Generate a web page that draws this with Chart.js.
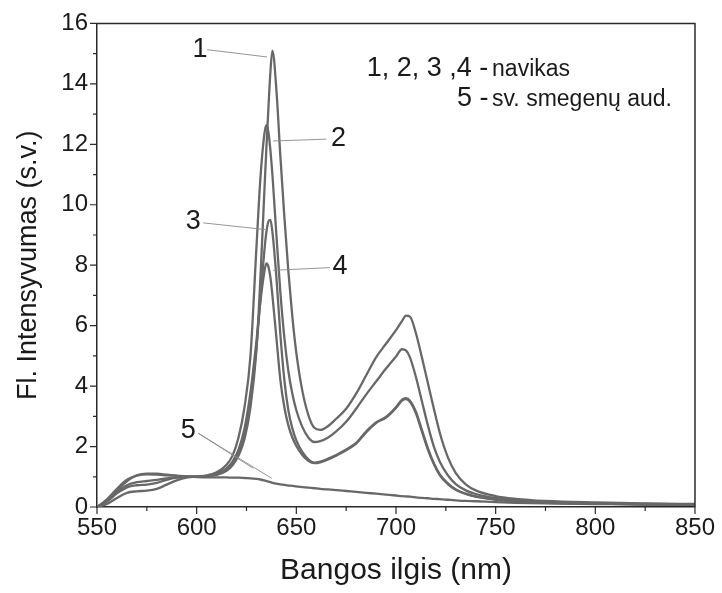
<!DOCTYPE html>
<html>
<head>
<meta charset="utf-8">
<script src="https://cdn.jsdelivr.net/npm/chart.js@4"></script>
<style>
  html, body { margin: 0; padding: 0; background: #fff; }
  #wrap { width: 722px; height: 593px; }
</style>
</head>
<body>
<div id="wrap"><canvas id="chart" width="722" height="593"></canvas></div>
<script>
// wavelength grid (nm)
const wavelengths = [550,555,560,565,570,575,580,585,590,595,600,605,610,615,618,621,624,627,630,632,634,635,636,637,638,640,642,644,646,648,650,653,656,659,662,666,670,675,680,685,690,695,700,703,705,707,710,713,716,719,722,726,730,735,740,750,760,775,800,825,850];

// 1..4 - navikas (tumour), 5 - healthy brain tissue
const curve1 = [0,0.1,0.3,0.47,0.52,0.54,0.6,0.74,0.88,0.97,1.0,1.02,1.06,1.2,1.38,1.7,2.25,3.3,5.2,7.6,10.5,11.9,13.2,14.4,15.1,13.8,11.6,9.6,7.8,6.3,5.1,3.85,3.05,2.62,2.55,2.68,2.92,3.25,3.75,4.35,4.95,5.4,5.85,6.15,6.33,6.3,5.75,4.95,4.1,3.25,2.45,1.65,1.12,0.75,0.55,0.36,0.27,0.2,0.15,0.12,0.1];
const curve2 = [0,0.2,0.5,0.72,0.82,0.86,0.9,0.95,0.98,1.0,1.01,1.05,1.15,1.4,1.7,2.3,3.3,5.0,8.6,10.9,12.35,12.63,12.4,11.8,11.0,9.0,7.1,5.6,4.5,3.75,3.2,2.65,2.3,2.15,2.18,2.3,2.5,2.82,3.25,3.72,4.15,4.58,4.98,5.22,5.18,4.95,4.3,3.5,2.7,2.0,1.5,1.05,0.76,0.55,0.43,0.3,0.23,0.17,0.13,0.1,0.09];
const curve3 = [0,0.25,0.6,0.9,1.04,1.08,1.07,1.05,1.03,1.01,1.0,1.02,1.08,1.22,1.42,1.78,2.4,3.5,5.3,6.9,8.5,9.1,9.45,9.5,9.1,7.6,5.7,4.2,3.2,2.6,2.2,1.82,1.58,1.47,1.5,1.6,1.72,1.9,2.12,2.5,2.8,2.98,3.3,3.55,3.6,3.52,3.15,2.55,1.95,1.45,1.08,0.78,0.58,0.44,0.35,0.25,0.2,0.15,0.11,0.09,0.08];
const curve4 = [0,0.18,0.45,0.65,0.72,0.74,0.8,0.9,0.97,1.0,1.0,1.02,1.1,1.28,1.5,1.9,2.6,3.8,5.5,6.8,7.8,8.06,7.95,7.6,7.0,5.6,4.2,3.3,2.7,2.3,2.02,1.72,1.53,1.45,1.48,1.57,1.7,1.88,2.1,2.47,2.78,2.96,3.28,3.52,3.57,3.48,3.1,2.5,1.9,1.42,1.05,0.76,0.57,0.43,0.34,0.24,0.19,0.14,0.11,0.09,0.08];
const curve5 = [0,0.22,0.55,0.85,1.05,1.1,1.1,1.07,1.04,1.01,0.99,0.98,0.98,0.98,0.97,0.97,0.96,0.95,0.93,0.91,0.88,0.86,0.84,0.82,0.8,0.77,0.75,0.73,0.71,0.7,0.68,0.66,0.64,0.62,0.6,0.58,0.56,0.53,0.5,0.47,0.44,0.41,0.38,0.36,0.35,0.34,0.32,0.3,0.29,0.27,0.26,0.24,0.22,0.2,0.19,0.16,0.14,0.12,0.1,0.08,0.07];

const seriesList = [curve1, curve2, curve3, curve4, curve5];

// curve number labels with leader lines, in data units [nm, value]
const labelText = ['1', '2', '3', '4', '5'];
const labelAt = [[601.7, 15.12], [671.1, 12.19], [598.3, 9.43], [671.9, 7.94], [595.8, 2.52]];
const leaders = [
  [[605.2, 15.13], [635.3, 14.89]],
  [[665.2, 12.17], [638.4, 12.11]],
  [[603.3, 9.40], [634.3, 9.18]],
  [[666.9, 7.92], [638.4, 7.83]],
  [[600.8, 2.44], [628.4, 1.28]],
  [[600.8, 2.44], [637.6, 0.95]]
];

const FONT = '"Liberation Sans", Arial, Helvetica, sans-serif';

const decor = {
  id: 'decor',
  afterDraw(chart) {
    const { ctx, chartArea: a, scales: { x, y } } = chart;
    ctx.save();
    ctx.strokeStyle = '#2a2a2a';
    ctx.lineWidth = 1.5;
    // frame top + right
    ctx.beginPath();
    ctx.moveTo(a.left, a.top);
    ctx.lineTo(a.right, a.top);
    ctx.lineTo(a.right, a.bottom);
    ctx.stroke();
    // outward tick marks, major + minor
    ctx.lineWidth = 1.2;
    ctx.beginPath();
    x.ticks.forEach(t => {
      const px = x.getPixelForValue(t.value);
      const len = t.value % 50 === 0 ? 7 : 4;
      ctx.moveTo(px, a.bottom); ctx.lineTo(px, a.bottom + len);
    });
    y.ticks.forEach(t => {
      const py = y.getPixelForValue(t.value);
      const len = t.value % 2 === 0 ? 7 : 4;
      ctx.moveTo(a.left, py); ctx.lineTo(a.left - len, py);
    });
    ctx.stroke();

    // leader lines
    ctx.strokeStyle = '#8a8a8a';
    ctx.lineWidth = 0.9;
    ctx.beginPath();
    leaders.forEach(([p, q]) => {
      ctx.moveTo(x.getPixelForValue(p[0]), y.getPixelForValue(p[1]));
      ctx.lineTo(x.getPixelForValue(q[0]), y.getPixelForValue(q[1]));
    });
    ctx.stroke();

    // curve numbers
    ctx.fillStyle = '#1a1a1a';
    ctx.font = '27px ' + FONT;
    ctx.textAlign = 'center';
    ctx.textBaseline = 'middle';
    labelText.forEach((s, i) => {
      ctx.fillText(s, x.getPixelForValue(labelAt[i][0]), y.getPixelForValue(labelAt[i][1]));
    });

    // key text, top right
    ctx.textAlign = 'left';
    ctx.textBaseline = 'alphabetic';
    ctx.font = '27px ' + FONT;
    ctx.fillText('1, 2, 3 ,4 -', x.getPixelForValue(685.3), y.getPixelForValue(14.25));
    ctx.fillText('5 -', x.getPixelForValue(730.6), y.getPixelForValue(13.27));
    ctx.font = '23px ' + FONT;
    ctx.fillText('navikas', x.getPixelForValue(748.2), y.getPixelForValue(14.25));
    ctx.fillText('sv. smegenų aud.', x.getPixelForValue(748.2), y.getPixelForValue(13.27));
    ctx.restore();
  }
};

new Chart(document.getElementById('chart'), {
  type: 'line',
  data: {
    datasets: seriesList.map((vals, i) => ({
      label: String(i + 1),
      data: wavelengths.map((w, k) => ({ x: w, y: vals[k] })),
      borderColor: '#686868',
      borderWidth: 2.3,
      pointRadius: 0,
      fill: false,
      cubicInterpolationMode: 'monotone'
    }))
  },
  options: {
    responsive: false,
    animation: false,
    events: [],
    layout: { padding: { left: 0, right: 27, top: 23, bottom: 0 } },
    plugins: { legend: { display: false }, tooltip: { enabled: false } },
    scales: {
      x: {
        type: 'linear',
        min: 550, max: 850,
        grid: { display: false, drawTicks: false },
        border: { display: true, color: '#2a2a2a', width: 1.5 },
        ticks: {
          stepSize: 25, autoSkip: false, maxRotation: 0, padding: 7,
          color: '#1a1a1a', font: { family: FONT, size: 24 },
          callback: v => (v % 50 === 0 ? String(v) : '')
        },
        title: {
          display: true, text: 'Bangos ilgis (nm)', color: '#1a1a1a',
          font: { family: FONT, size: 30 }, padding: { top: 0, bottom: 4 }
        },
        afterFit: s => { s.height = 86; }
      },
      y: {
        min: 0, max: 16,
        grid: { display: false, drawTicks: false },
        border: { display: true, color: '#2a2a2a', width: 1.5 },
        ticks: {
          stepSize: 1, autoSkip: false, padding: 9,
          color: '#1a1a1a', font: { family: FONT, size: 24 },
          callback: v => (v % 2 === 0 ? String(v) : '')
        },
        title: {
          display: true, text: 'Fl. Intensyvumas (s.v.)', color: '#1a1a1a',
          font: { family: FONT, size: 27 }, padding: { top: 12, bottom: 0 }
        },
        afterFit: s => { s.width = 97; }
      }
    }
  },
  plugins: [decor]
});
</script>
</body>
</html>
